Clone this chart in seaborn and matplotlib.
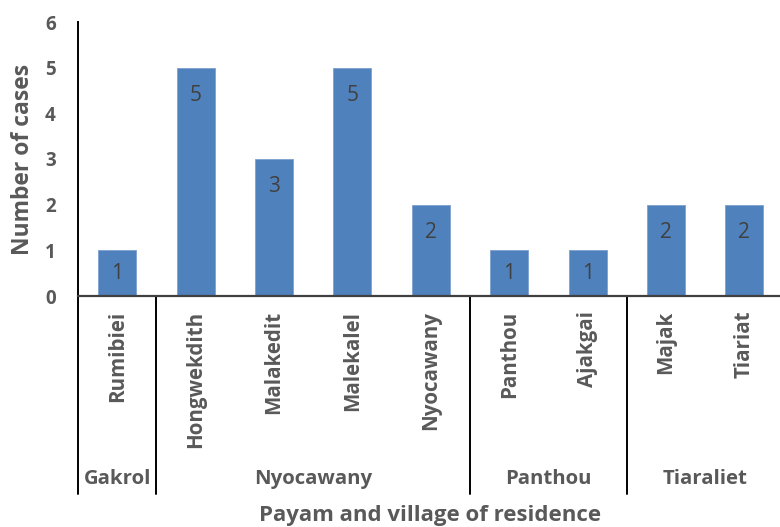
import matplotlib
matplotlib.use("Agg")
import matplotlib.pyplot as plt
import matplotlib.transforms as mtransforms
from matplotlib.lines import Line2D
import seaborn as sns
import pandas as pd

# Cases by village, grouped by payam
villages = ["Rumibiei", "Hongwekdith", "Malakedit", "Malekalel", "Nyocawany",
            "Panthou", "Ajakgai", "Majak", "Tiariat"]
payams = ["Gakrol", "Nyocawany", "Nyocawany", "Nyocawany", "Nyocawany",
          "Panthou", "Panthou", "Tiaraliet", "Tiaraliet"]
cases = [1, 5, 3, 5, 2, 1, 1, 2, 2]
y_ticks = [0, 1, 2, 3, 4, 5, 6]

df = pd.DataFrame({"village": villages, "payam": payams, "cases": cases})

sns.set_theme(style="white")
plt.rcParams["font.family"] = ["Open Sans", "DejaVu Sans"]

W, H = 780, 527
fig = plt.figure(figsize=(W / 100, H / 100), dpi=100)
ax = fig.add_axes([78 / W, (H - 296) / H, 9 * 78.4 / W, 274 / H])

bar_color = "#4F81BD"
sns.barplot(data=df, x="village", y="cases", color=bar_color, width=0.485,
            saturation=1, edgecolor="#7EA1D0", linewidth=0.6, ax=ax)

ax.set_xlim(-0.5, len(villages) - 0.5)
ax.set_ylim(0, 6)
ax.set_yticks(y_ticks)
ax.set_yticklabels([str(t) for t in y_ticks], fontsize=13.5, fontweight="bold",
                   color="#595959")
ax.tick_params(axis="y", length=0, pad=16)
ax.set_xticks([])
ax.set_xlabel("")
ax.set_ylabel("Number of cases", fontsize=16.5, fontweight="bold",
              color="#595959", labelpad=7)

for s in ["top", "right"]:
    ax.spines[s].set_visible(False)
ax.spines["left"].set_color("#000000")
ax.spines["left"].set_linewidth(1.4)
ax.spines["bottom"].set_color("#404040")
ax.spines["bottom"].set_linewidth(1.6)

# value labels inside the bars, near the top
px_per_unit = 274 / 6
for i, v in enumerate(cases):
    y = max(v - 28 / px_per_unit, v / 2)
    ax.text(i, y, str(v), ha="center", va="center", fontsize=15,
            color="#404040")

# two-level category axis below the plot
tr = mtransforms.blended_transform_factory(ax.transData, fig.transFigure)
for i, name in enumerate(villages):
    ax.text(i, (H - 311) / H, name, transform=tr, rotation=90, ha="center",
            va="top", fontsize=14.8, fontweight="bold", color="#595959")

# group boundaries and payam labels
bounds = [-0.5]
for i in range(1, len(payams)):
    if payams[i] != payams[i - 1]:
        bounds.append(i - 0.5)
bounds.append(len(payams) - 0.5)

for b in bounds[:-1]:
    ax.add_line(Line2D([b, b], [(H - 296) / H, (H - 494) / H], transform=tr,
                       color="#000000", linewidth=1.4, clip_on=False))

groups = []
for p in payams:
    if p not in groups:
        groups.append(p)
for g, lo, hi in zip(groups, bounds[:-1], bounds[1:]):
    ax.text((lo + hi) / 2, (H - 479) / H, g, transform=tr, ha="center",
            va="center", fontsize=14.7, fontweight="bold", color="#595959")

fig.text((78 + 782) / 2 / W, (H - 515) / H, "Payam and village of residence",
         ha="center", va="center", fontsize=16, fontweight="bold",
         color="#595959")

fig.savefig("out.png", dpi=100)
